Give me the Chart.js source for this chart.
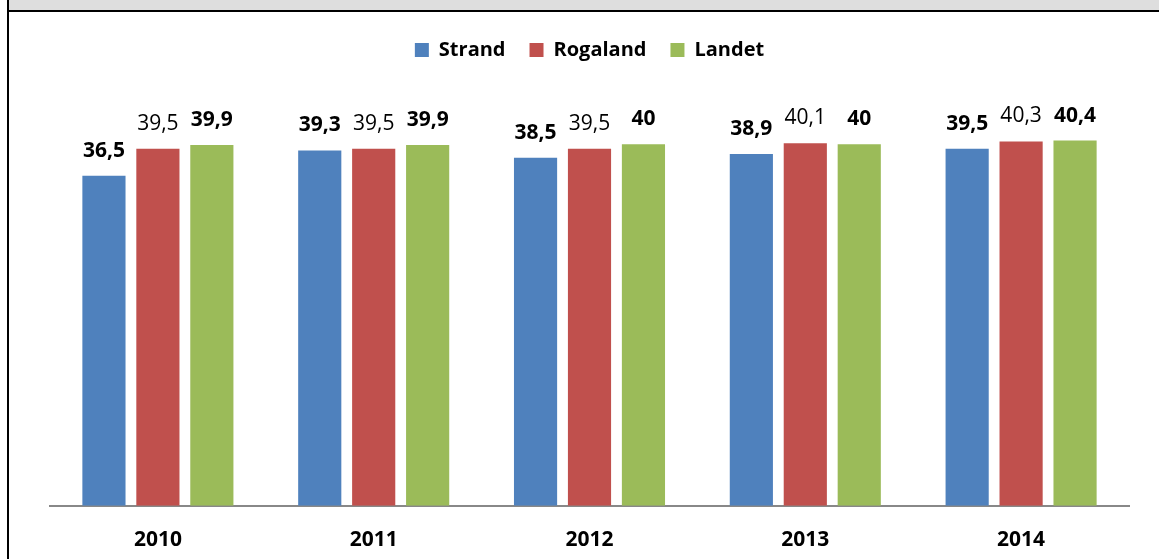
<!DOCTYPE html>
<html>
<head>
<meta charset="utf-8">
<script src="https://cdn.jsdelivr.net/npm/chart.js@4.4.1/dist/chart.umd.min.js"></script>
<style>
  html, body { margin: 0; padding: 0; background: #fff; overflow: hidden; }
  body { width: 1159px; height: 559px; position: relative; }
  .band { position: absolute; left: 9px; top: 0; right: 0; height: 10px; background: #dedede; }
  .topline { position: absolute; left: 7px; top: 10px; right: 0; height: 2px; background: #000; }
  .leftline { position: absolute; left: 7px; top: 0; bottom: 0; width: 2px; background: #000; }
  .wrap { position: absolute; left: 9px; top: 12px; width: 1170px; height: 555px; }
</style>
</head>
<body>
<div class="band"></div>
<div class="topline"></div>
<div class="leftline"></div>
<div class="wrap"><canvas id="chart"></canvas></div>
<script>
// Årstall og verdier
var aar = ['2010', '2011', '2012', '2013', '2014'];
var strand = [36.5, 39.3, 38.5, 38.9, 39.5];
var rogaland = [39.5, 39.5, 39.5, 40.1, 40.3];
var landet = [39.9, 39.9, 40, 40, 40.4];

var fontFamily = '"Open Sans", "DejaVu Sans", sans-serif';

// Verdietiketter over søylene
var etiketter = {
    id: 'etiketter',
    afterDatasetsDraw: function (chart) {
        var ctx = chart.ctx;
        ctx.save();
        ctx.textAlign = 'center';
        ctx.textBaseline = 'middle';
        ctx.fillStyle = '#000';
        chart.data.datasets.forEach(function (ds, i) {
            var meta = chart.getDatasetMeta(i);
            ctx.font = (i === 1 ? 'normal ' : 'bold ') + '21px ' + fontFamily;
            meta.data.forEach(function (bar, j) {
                var txt = String(ds.data[j]).replace('.', ',');
                ctx.fillText(txt, bar.x, bar.y - 25);
            });
        });
        ctx.restore();
    }
};

var ctx = document.getElementById('chart').getContext('2d');
var chart = new Chart(ctx, {
    type: 'bar',
    data: {
        labels: aar,
        datasets: [
            { label: 'Strand', data: strand, backgroundColor: '#4F81BD' },
            { label: 'Rogaland', data: rogaland, backgroundColor: '#C0504D' },
            { label: 'Landet', data: landet, backgroundColor: '#9BBB59' }
        ]
    },
    options: {
        responsive: true,
        maintainAspectRatio: false,
        animation: false,
        categoryPercentage: 0.75,
        barPercentage: 0.8,
        layout: { padding: { left: 41, right: 50, top: 4, bottom: 0 } },
        plugins: {
            legend: {
                position: 'top',
                labels: {
                    boxWidth: 14,
                    boxHeight: 14,
                    padding: 24,
                    color: '#000',
                    font: { family: fontFamily, size: 20, weight: 'bold' }
                }
            },
            tooltip: { enabled: false }
        },
        scales: {
            x: {
                grid: { display: false },
                border: { color: '#888', width: 2 },
                ticks: {
                    color: '#000',
                    padding: 14,
                    font: { family: fontFamily, size: 21, weight: 'bold' }
                }
            },
            y: {
                display: false,
                min: 0,
                max: 48.2
            }
        }
    },
    plugins: [etiketter]
});
</script>
</body>
</html>
